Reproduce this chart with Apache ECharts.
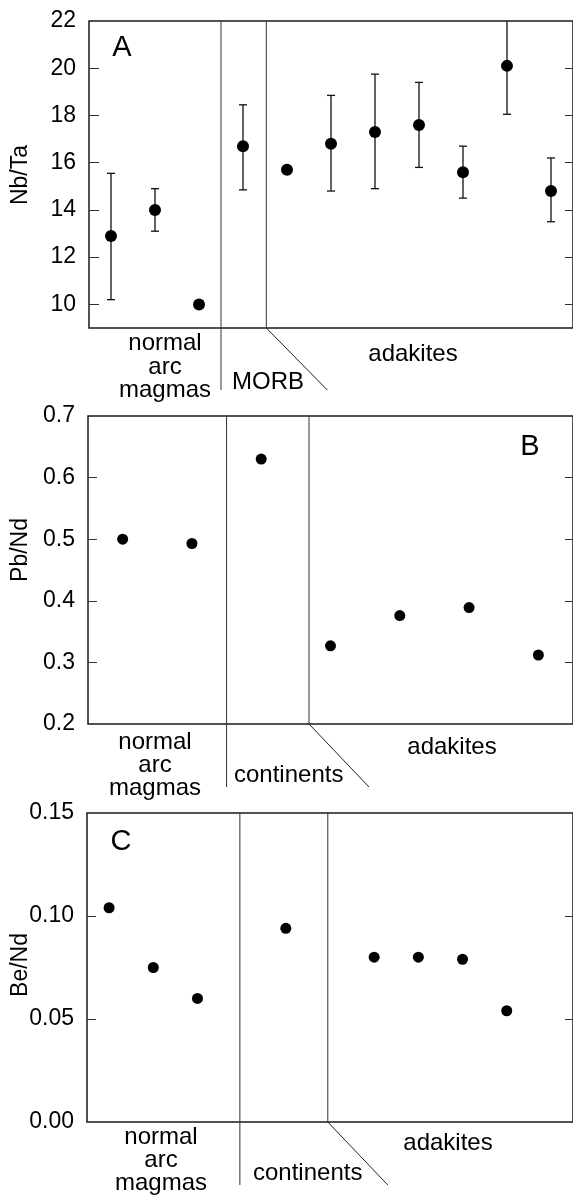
<!DOCTYPE html>
<html>
<head>
<meta charset="utf-8">
<script src="https://cdn.jsdelivr.net/npm/echarts@6/dist/echarts.min.js"></script>
<style>
html,body{margin:0;padding:0;background:#fff;}
#c{width:573px;height:1197px;}
</style>
</head>
<body>
<div id="c"></div>
<script>
// ---- Panel A: Nb/Ta ----
const nbtaPos = [0, 1, 2, 3, 4, 5, 6, 7, 8, 9, 10];
const nbtaVal = [12.9, 14.0, 10.0, 16.7, 15.7, 16.8, 17.3, 17.6, 15.6, 20.1, 14.8];
const nbtaLo  = [10.2, 13.1, null, 14.85, null, 14.8, 14.9, 15.8, 14.5, 18.05, 13.5];
const nbtaHi  = [15.55, 14.9, null, 18.45, null, 18.85, 19.75, 19.4, 16.7, 22.1, 16.2];
const nbtaLabels = [10, 12, 14, 16, 18, 20, 22];
const nbtaTicks = [10, 12, 14, 16, 18, 20];

// ---- Panel B: Pb/Nd ----
const pbndPos = [0, 1, 2, 3, 4, 5, 6];
const pbndVal = [0.50, 0.493, 0.630, 0.327, 0.376, 0.389, 0.312];
const pbndLabels = [0.2, 0.3, 0.4, 0.5, 0.6, 0.7];
const pbndTicks = [0.3, 0.4, 0.5, 0.6];

// ---- Panel C: Be/Nd ----
const bendPos = [0, 1, 2, 4, 6, 7, 8, 9];
const bendVal = [0.104, 0.075, 0.060, 0.094, 0.080, 0.080, 0.079, 0.054];
const bendLabels = [0, 0.05, 0.10, 0.15];
const bendTicks = [0.05, 0.10];

// group separators (in x-slot units)
const sepA = [2.5, 3.53];
const sepB = [1.5, 2.69];
const sepC = [2.96, 4.95];

const FONT = 'Liberation Sans, Arial, sans-serif';
const chart = echarts.init(document.getElementById('c'), null, {renderer: 'canvas'});

function grid(left, top, height) {
  return {left: left, top: top, right: -2, height: height, show: true,
          borderColor: '#1a1a1a', borderWidth: 1.5, backgroundColor: 'transparent'};
}
function xAx(gi, max) {
  return {type: 'value', gridIndex: gi, min: -0.5, max: max,
          axisLine: {show: false, onZero: false}, axisTick: {show: false},
          axisLabel: {show: false}, splitLine: {show: false}};
}
function yLeft(gi, min, max, labels, ticks, fmt, tickLen) {
  return {type: 'value', gridIndex: gi, min: min, max: max, position: 'left',
          axisLine: {show: false, onZero: false},
          axisTick: {show: true, inside: true, length: tickLen, customValues: ticks,
                     lineStyle: {color: '#333', width: 1}},
          axisLabel: {show: true, customValues: labels, formatter: fmt, margin: 13,
                      fontFamily: FONT, fontSize: 23, color: '#000'},
          splitLine: {show: false}};
}
function yRight(gi, min, max, ticks) {
  return {type: 'value', gridIndex: gi, min: min, max: max, position: 'right',
          axisLine: {show: false, onZero: false},
          axisTick: {show: true, inside: true, length: 8, customValues: ticks,
                     lineStyle: {color: '#333', width: 1}},
          axisLabel: {show: false}, splitLine: {show: false}};
}

const errData = [];
nbtaPos.forEach((x, i) => {
  if (nbtaLo[i] != null) errData.push([x, nbtaLo[i], nbtaHi[i]]);
});

const dotStyle = {color: '#000', opacity: 1};

chart.setOption({
  animation: false,
  backgroundColor: '#fff',
  grid: [grid(89, 21, 307), grid(88, 416, 308), grid(87, 813, 309)],
  xAxis: [xAx(0, 10.5), xAx(1, 6.5), xAx(2, 10.5)],
  yAxis: [
    yLeft(0, 9, 22, nbtaLabels, nbtaTicks, v => String(Math.round(v)), 10),
    yRight(0, 9, 22, nbtaTicks),
    yLeft(1, 0.2, 0.7, pbndLabels, pbndTicks, v => v.toFixed(1), 9),
    yRight(1, 0.2, 0.7, pbndTicks),
    yLeft(2, 0, 0.15, bendLabels, bendTicks, v => v.toFixed(2), 9),
    yRight(2, 0, 0.15, bendTicks)
  ],
  series: [
    {
      type: 'custom', xAxisIndex: 0, yAxisIndex: 0, clip: true, z: 2,
      data: errData,
      encode: {x: 0, y: [1, 2]},
      renderItem: function (params, api) {
        const x = api.value(0), lo = api.value(1), hi = api.value(2);
        const pt = api.coord([x, hi]), pb = api.coord([x, lo]);
        const st = {stroke: '#111', lineWidth: 1.3};
        const hw = 4;
        return {type: 'group', children: [
          {type: 'line', shape: {x1: pt[0], y1: pt[1], x2: pb[0], y2: pb[1]}, style: st},
          {type: 'line', shape: {x1: pt[0]-hw, y1: pt[1], x2: pt[0]+hw, y2: pt[1]}, style: st},
          {type: 'line', shape: {x1: pb[0]-hw, y1: pb[1], x2: pb[0]+hw, y2: pb[1]}, style: st}
        ]};
      }
    },
    {type: 'scatter', xAxisIndex: 0, yAxisIndex: 0, symbolSize: 12, z: 3,
     itemStyle: dotStyle, emphasis: {disabled: true},
     data: nbtaPos.map((x, i) => [x, nbtaVal[i]])},
    {type: 'scatter', xAxisIndex: 1, yAxisIndex: 2, symbolSize: 11, z: 3,
     itemStyle: dotStyle, emphasis: {disabled: true},
     data: pbndPos.map((x, i) => [x, pbndVal[i]])},
    {type: 'scatter', xAxisIndex: 2, yAxisIndex: 4, symbolSize: 11, z: 3,
     itemStyle: dotStyle, emphasis: {disabled: true},
     data: bendPos.map((x, i) => [x, bendVal[i]])}
  ]
});

// ---- annotations: separators, group labels, panel letters, axis titles ----
const g = [];
function sepLines(gi, seps, yMin, yMax, below, diagDx) {
  const a = chart.convertToPixel({gridIndex: gi}, [seps[0], yMax]);
  const a2 = chart.convertToPixel({gridIndex: gi}, [seps[0], yMin]);
  g.push({type: 'line', shape: {x1: a[0], y1: a[1], x2: a2[0], y2: a2[1] + below},
          style: {stroke: '#333', lineWidth: 1}, z: 10});
  const b = chart.convertToPixel({gridIndex: gi}, [seps[1], yMax]);
  const b2 = chart.convertToPixel({gridIndex: gi}, [seps[1], yMin]);
  g.push({type: 'line', shape: {x1: b[0], y1: b[1], x2: b2[0], y2: b2[1]},
          style: {stroke: '#333', lineWidth: 1}, z: 10});
  g.push({type: 'line', shape: {x1: b2[0], y1: b2[1], x2: b2[0] + diagDx, y2: b2[1] + below},
          style: {stroke: '#222', lineWidth: 1}, z: 10});
}
sepLines(0, sepA, 9, 22, 62, 61);
sepLines(1, sepB, 0.2, 0.7, 63, 60);
sepLines(2, sepC, 0, 0.15, 63, 60);

function txt(str, x, y, size, align, rot) {
  g.push({type: 'text', x: x, y: y, rotation: rot || 0, z: 10,
          style: {text: str, fontFamily: FONT, fontSize: size, fill: '#000',
                  align: align || 'center', verticalAlign: 'middle'}});
}
// Panel A
txt('A', 122, 48, 29);
txt('normal', 165, 343, 24); txt('arc', 165, 367, 24); txt('magmas', 165, 390, 24);
txt('MORB', 232, 382, 24, 'left');
txt('adakites', 413, 354, 24);
txt('Nb/Ta', 21, 175, 23, 'center', Math.PI / 2);
// Panel B
txt('B', 530, 447, 29);
txt('normal', 155, 742, 24); txt('arc', 155, 765, 24); txt('magmas', 155, 788, 24);
txt('continents', 234, 775, 24, 'left');
txt('adakites', 452, 747, 24);
txt('Pb/Nd', 21, 550, 23, 'center', Math.PI / 2);
// Panel C
txt('C', 121, 842, 29);
txt('normal', 161, 1137, 24); txt('arc', 161, 1160, 24); txt('magmas', 161, 1183, 24);
txt('continents', 253, 1173, 24, 'left');
txt('adakites', 448, 1143, 24);
txt('Be/Nd', 21, 965, 23, 'center', Math.PI / 2);

chart.setOption({graphic: g});
</script>
</body>
</html>
